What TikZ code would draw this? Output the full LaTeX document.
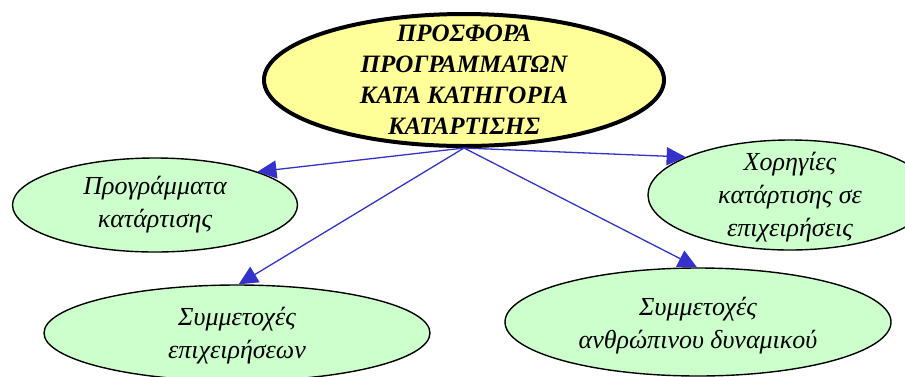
\documentclass[tikz,border=0pt]{standalone}
\usepackage{fontspec}
\setmainfont{Liberation Serif}
\usetikzlibrary{shapes.geometric}
\usetikzlibrary{arrows.meta}
\definecolor{kitrino}{HTML}{FFFF99}
\definecolor{prasino}{HTML}{CCFFCC}
\definecolor{mple}{HTML}{3333CC}
\begin{document}
\begin{tikzpicture}[x=1pt, y=-1pt,
 elleipsi/.style={ellipse, draw=black, fill=prasino, line width=1.4pt, inner sep=0},
 keimeno/.style={align=center, inner sep=0, font=\fontsize{26}{33}\selectfont\itshape},
 belos/.style={mple, line width=1.3pt, -{Triangle[length=19pt, width=18pt]}}]
\clip (0,0) rectangle (905,376);
\node[elleipsi, fill=kitrino, line width=4pt, minimum width=400pt, minimum height=132pt] (prosfora) at (464,80) {};
\node[elleipsi, minimum width=285pt, minimum height=94pt] (programmata) at (155,205) {};
\node[elleipsi, minimum width=284pt, minimum height=110pt] (xorhgies) at (790,195) {};
\node[elleipsi, minimum width=386pt, minimum height=96pt] (symepix) at (237,333) {};
\node[elleipsi, minimum width=386pt, minimum height=108pt] (symanthr) at (698,322) {};
\node[keimeno, font=\fontsize{25}{31}\selectfont\bfseries\itshape] (prosfora-k) at (prosfora) {ΠΡΟΣΦΟΡΑ\\ ΠΡΟΓΡΑΜΜΑΤΩΝ\\ ΚΑΤΑ ΚΑΤΗΓΟΡΙΑ\\ ΚΑΤΑΡΤΙΣΗΣ};
\node[keimeno] (programmata-k) at (programmata) {Προγράμματα\\ κατάρτισης};
\node[keimeno] (xorhgies-k) at ([yshift=-2pt]xorhgies) {Χορηγίες\\ κατάρτισης σε\\ επιχειρήσεις};
\node[keimeno] (symepix-k) at ([yshift=-3pt]symepix) {Συμμετοχές\\ επιχειρήσεων};
\node[keimeno] (symanthr-k) at ([yshift=-4pt]symanthr) {Συμμετοχές\\ ανθρώπινου δυναμικού};
\foreach \n/\a in {programmata/18, xorhgies/160, symepix/88, symanthr/91}
 \draw[belos] (prosfora.south) -- (\n.\a);
\end{tikzpicture}
\end{document}
